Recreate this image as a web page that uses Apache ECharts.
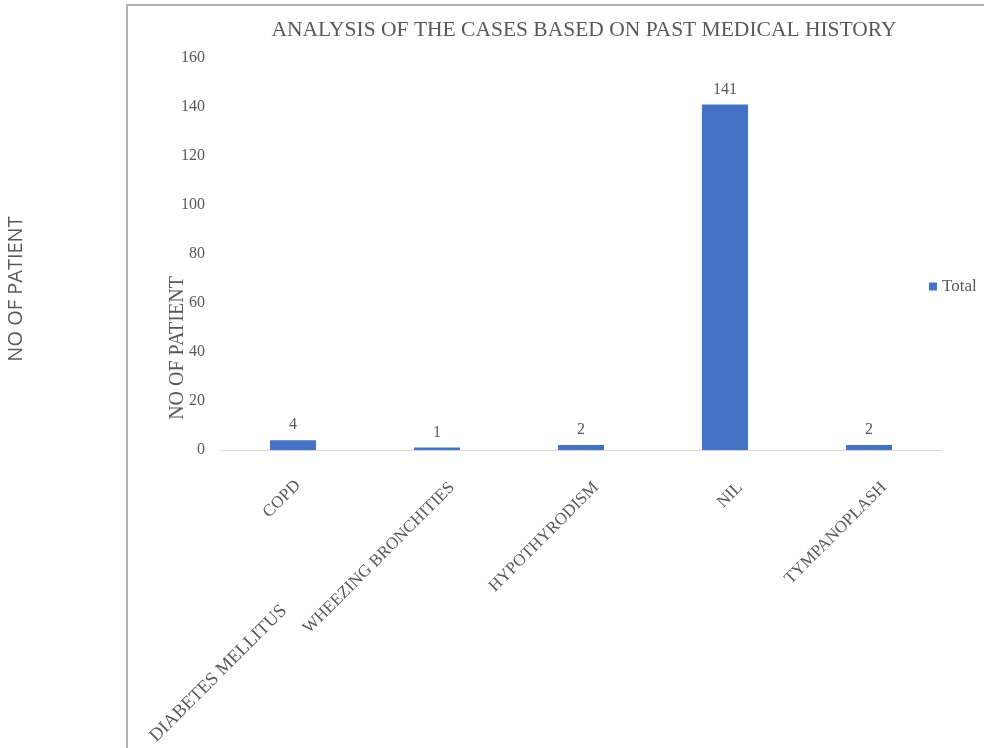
<!DOCTYPE html>
<html><head><meta charset="utf-8">
<script src="https://cdn.jsdelivr.net/npm/echarts@6/dist/echarts.min.js"></script>
<style>html,body{margin:0;padding:0;background:#fff}#c{width:984px;height:748px}</style>
</head><body><div id="c"></div>
<script>
const categories = ['COPD', 'WHEEZING BRONCHITIES', 'HYPOTHYRODISM', 'NIL', 'TYMPANOPLASH'];
const extraLabels = ['DIABETES MELLITUS', '', '', '', ''];
const totals = [4, 1, 2, 141, 2];
const yTicks = { min: 0, max: 160, interval: 20 };
const titleText = 'ANALYSIS OF THE CASES BASED ON PAST MEDICAL HISTORY';
const yName = 'NO OF PATIENT';
const seriesName = 'Total';

const serif = '"Liberation Serif", "DejaVu Serif", serif';
const grey = '#595959';
const lblBase = { rotate: 45, interval: 0, fontFamily: serif, fontSize: 17, color: grey };
const hiddenY = (gi) => ({ type: 'value', gridIndex: gi, min: yTicks.min, max: yTicks.max, show: false });
const chart = echarts.init(document.getElementById('c'));
chart.setOption({
  animation: false,
  backgroundColor: '#fff',
  title: {
    text: titleText, left: 579, top: 14, textAlign: 'center',
    textStyle: { fontFamily: serif, fontSize: 21.5, fontWeight: 'normal', color: grey }
  },
  legend: {
    data: [seriesName], left: 924, top: 273, orient: 'vertical',
    icon: 'rect', itemWidth: 8, itemHeight: 8, itemGap: 4,
    textStyle: { fontFamily: serif, fontSize: 17, color: grey }
  },
  grid: [
    { left: 221, right: 43, top: 58, bottom: 298 },
    { left: 236, right: 28, top: 58, bottom: 298 },
    { left: 226, right: 38, top: 58, bottom: 298 },
    { left: 212, right: 52, top: 58, bottom: 298 }
  ],
  xAxis: [{
    type: 'category', gridIndex: 0, data: categories, position: 'bottom',
    axisLine: { lineStyle: { color: '#d9d9d9', width: 1 } },
    axisTick: { show: false }, axisLabel: { show: false }
  }, {
    type: 'category', gridIndex: 1, data: categories, position: 'bottom',
    axisLine: { show: false }, axisTick: { show: false },
    axisLabel: Object.assign({}, lblBase, { margin: 35, formatter: (v, i) => i === 0 ? '' : v })
  }, {
    type: 'category', gridIndex: 2, data: categories, position: 'bottom',
    axisLine: { show: false }, axisTick: { show: false },
    axisLabel: Object.assign({}, lblBase, { margin: 33, formatter: (v, i) => i === 0 ? v : '' })
  }, {
    type: 'category', gridIndex: 3, data: extraLabels, position: 'bottom', offset: 145,
    axisLine: { show: false }, axisTick: { show: false },
    axisLabel: Object.assign({}, lblBase, { margin: 16, fontSize: 18.5 })
  }],
  yAxis: [{
    type: 'value', gridIndex: 0, min: yTicks.min, max: yTicks.max, interval: yTicks.interval,
    splitLine: { show: false }, axisLine: { show: false }, axisTick: { show: false },
    axisLabel: { margin: 16, fontFamily: serif, fontSize: 16, color: grey }
  }, hiddenY(1), hiddenY(2), hiddenY(3)],
  graphic: [
    { type: 'rect', shape: { x: 127, y: 5, width: 900, height: 800 }, style: { fill: 'none', stroke: '#9a9a9a', lineWidth: 1.5 }, silent: true },
    { type: 'text', x: 178, y: 348, rotation: Math.PI / 2,
      style: { text: yName, fontFamily: serif, fontSize: 20, fill: grey, textAlign: 'center', textVerticalAlign: 'middle' } },
    { type: 'text', x: 16, y: 289, rotation: Math.PI / 2,
      style: { text: yName, fontFamily: '"Open Sans", "Noto Sans", sans-serif', fontSize: 20, fill: grey, textAlign: 'center', textVerticalAlign: 'middle' } }
  ],
  series: [{
    name: seriesName, type: 'bar', data: totals, barWidth: '32%', xAxisIndex: 0, yAxisIndex: 0,
    itemStyle: { color: '#4472C4' },
    label: { show: true, position: 'top', distance: 7, fontFamily: serif, fontSize: 16, color: grey }
  }]
});
</script></body></html>
